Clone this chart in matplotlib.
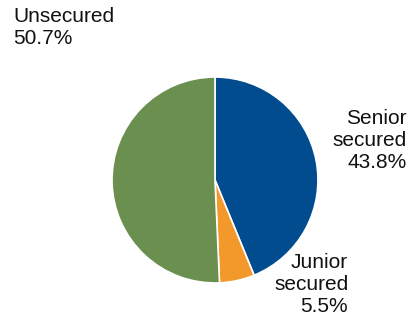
import matplotlib
matplotlib.use("Agg")
import matplotlib.pyplot as plt

# debt structure shares
labels = ["Senior\nsecured", "Junior\nsecured", "Unsecured"]
shares = [43.8, 5.5, 50.7]
colors = ["#004c8f", "#f3992b", "#6b8f4e"]

plt.rcParams["font.family"] = ["Liberation Sans", "DejaVu Sans"]

fig = plt.figure(figsize=(4.16, 3.22), dpi=100)
ax = fig.add_axes([0.2668, 0.118, 0.5, 0.646])
ax.pie(shares, colors=colors, startangle=90, counterclock=False,
       wedgeprops=dict(edgecolor="white", linewidth=1.2))
ax.set_xlim(-1.01, 1.01)
ax.set_ylim(-1.01, 1.01)
ax.set_aspect("equal")

# label positions (figure fraction), alignment
spots = [(0.978, 0.565, "right"), (0.837, 0.115, "right"), (0.032, 0.916, "left")]
for lab, val, (x, y, ha) in zip(labels, shares, spots):
    fig.text(x, y, f"{lab}\n{val}%", ha=ha, va="center", fontsize=15,
             multialignment=ha, color="#111111")

fig.savefig("out.png", dpi=100)
